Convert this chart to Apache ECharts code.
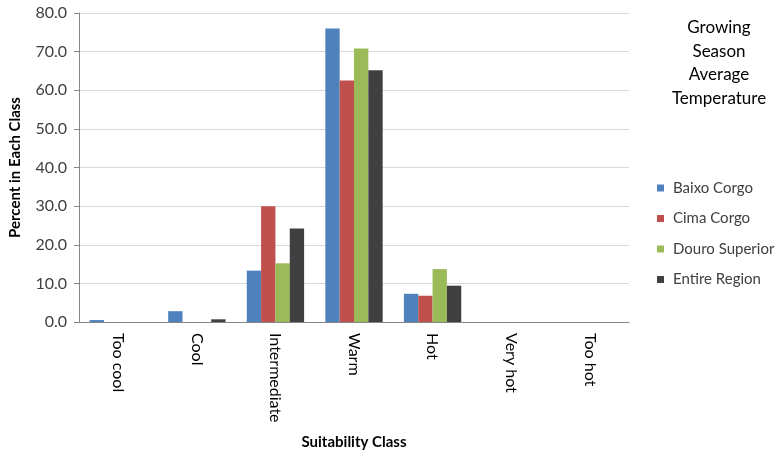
<!DOCTYPE html>
<html><head><meta charset="utf-8">
<script src="https://cdn.jsdelivr.net/npm/echarts@6/dist/echarts.min.js"></script>
<style>html,body{margin:0;padding:0;background:#fff}#c{width:781px;height:455px}</style>
</head><body><div id="c"></div>
<script>
const categories = ["Too cool","Cool","Intermediate","Warm","Hot","Very hot","Too hot"];
const baixoCorgo = [0.5, 2.8, 13.3, 76.0, 7.3, 0, 0];
const cimaCorgo = [0, 0, 30.0, 62.5, 6.8, 0, 0];
const douroSuperior = [0, 0, 15.2, 70.8, 13.7, 0, 0];
const entireRegion = [0, 0.7, 24.2, 65.2, 9.4, 0, 0];
const seriesNames = ["Baixo Corgo","Cima Corgo","Douro Superior","Entire Region"];
const colors = ["#4F81BD","#C0504D","#9BBB59","#404040"];
const FONT = "Lato";
const chart = echarts.init(document.getElementById('c'));
const datas = [baixoCorgo, cimaCorgo, douroSuperior, entireRegion];
chart.setOption({
  animation: false,
  textStyle: {fontFamily: FONT},
  title: {text: "Growing\nSeason\nAverage\nTemperature", left: 719, top: 16, padding: 0, textAlign: 'center',
    textStyle: {fontFamily: FONT, fontSize: 17, fontWeight: 'normal', color: '#000', lineHeight: 23.5}},
  legend: {orient: 'vertical', left: 657, top: 180.5, padding: 0, itemWidth: 7, itemHeight: 7, itemGap: 15.5,
    icon: 'rect', data: seriesNames,
    textStyle: {fontFamily: FONT, fontSize: 15, color: '#404040', padding: [0, 0, 0, 4]}},
  grid: {left: 79, right: 152, top: 13, bottom: 131},
  xAxis: {type: 'category', data: categories,
    name: 'Suitability Class', nameLocation: 'middle', nameGap: 113,
    nameTextStyle: {fontFamily: FONT, fontSize: 15, fontWeight: 'bold', color: '#000'},
    axisLine: {lineStyle: {color: '#868686'}},
    axisTick: {length: 5, lineStyle: {color: '#868686'}},
    axisLabel: {rotate: -90, fontSize: 16, color: '#000', margin: 11}},
  yAxis: {type: 'value', min: 0, max: 80, interval: 10,
    name: 'Percent in Each Class', nameLocation: 'middle', nameGap: 56,
    nameTextStyle: {fontFamily: FONT, fontSize: 15, fontWeight: 'bold', color: '#000'},
    axisLine: {show: true, lineStyle: {color: '#868686'}},
    axisTick: {show: true, length: 5, lineStyle: {color: '#868686'}},
    splitLine: {lineStyle: {color: '#d9d9d9'}},
    axisLabel: {formatter: v => v.toFixed(1), fontSize: 16, color: '#404040', margin: 12}},
  series: seriesNames.map((n, i) => ({
    name: n, type: 'bar', data: datas[i], barGap: '0%', barCategoryGap: '27%',
    itemStyle: {color: colors[i]}
  }))
});
</script></body></html>
